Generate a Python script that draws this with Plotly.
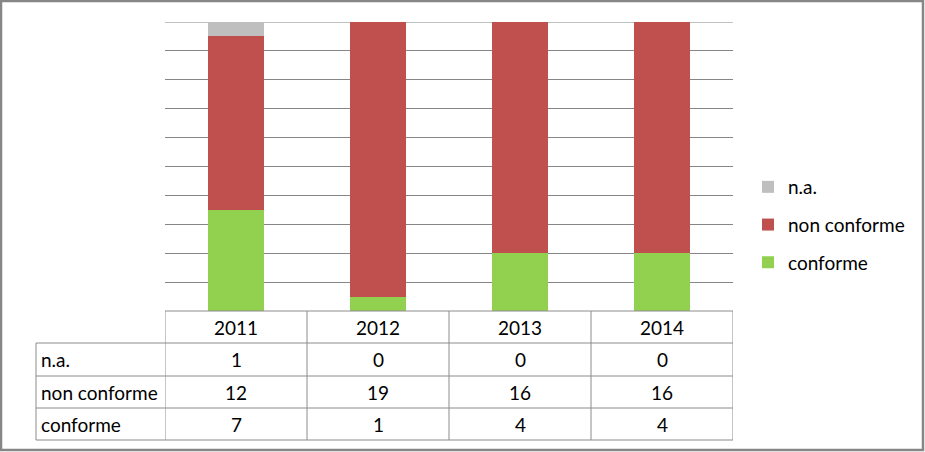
import plotly.graph_objects as go

years = ["2011", "2012", "2013", "2014"]
conforme = [7, 1, 4, 4]
non_conforme = [12, 19, 16, 16]
na = [1, 0, 0, 0]
series_names = ["n.a.", "non conforme", "conforme"]
series_values = [na, non_conforme, conforme]
colors = {"conforme": "#92D050", "non conforme": "#C0504D", "n.a.": "#BFBFBF"}
legend_rank = {"n.a.": 1, "non conforme": 2, "conforme": 3}

W, H = 925, 452
L, R, T, B = 165, 733, 22, 311
FONT = "Lato"
FS = 19
LINE = "#8C8C8C"


def px(xp):
    return (xp - L) / (R - L)


def py(yp):
    return (B - yp) / (B - T)


fig = go.Figure()
for name, vals in [("conforme", conforme), ("non conforme", non_conforme), ("n.a.", na)]:
    fig.add_trace(go.Bar(x=list(range(len(years))), y=vals, name=name,
                         marker=dict(color=colors[name], line=dict(width=0)),
                         legendgroup=name, legendrank=legend_rank[name], hoverinfo="skip"))

shapes = []
# outer border
shapes.append(dict(type="rect", xref="paper", yref="paper", x0=px(1), x1=px(W - 2), y0=py(1), y1=py(H - 2),
                   line=dict(color="#868686", width=2.5), fillcolor="rgba(0,0,0,0)", layer="below"))
# top gridline (at range edge)
shapes.append(dict(type="line", xref="paper", yref="y", x0=0, x1=1, y0=20, y1=20,
                   line=dict(color="#868686", width=1), layer="below"))
# table horizontal lines
row_y = [343, 376, 408, 440]
shapes.append(dict(type="line", xref="paper", yref="paper", x0=px(L), x1=px(R), y0=py(B), y1=py(B),
                   line=dict(color=LINE, width=1)))
for yy in row_y:
    shapes.append(dict(type="line", xref="paper", yref="paper", x0=px(36), x1=px(R), y0=py(yy), y1=py(yy),
                       line=dict(color=LINE, width=1)))
# vertical lines
shapes.append(dict(type="line", xref="paper", yref="paper", x0=px(36), x1=px(36), y0=py(343), y1=py(440),
                   line=dict(color=LINE, width=1)))
for i in range(len(years) + 1):
    shapes.append(dict(type="line", xref="x", yref="paper", x0=i - 0.5, x1=i - 0.5, y0=py(B), y1=py(440),
                       line=dict(color=LINE, width=1)))

annotations = []
header_y = (B + 343) / 2
row_centers = [(343 + 376) / 2, (376 + 408) / 2, (408 + 440) / 2]
for i, yr in enumerate(years):
    annotations.append(dict(x=i, y=py(header_y), xref="x", yref="paper", text=yr, showarrow=False,
                            font=dict(family=FONT, size=FS, color="black"), xanchor="center", yanchor="middle"))
for r, (nm, vals) in enumerate(zip(series_names, series_values)):
    annotations.append(dict(x=px(39), y=py(row_centers[r]), xref="paper", yref="paper", text=nm, showarrow=False,
                            font=dict(family=FONT, size=FS, color="black"), xanchor="left", yanchor="middle"))
    for i, v in enumerate(vals):
        annotations.append(dict(x=i, y=py(row_centers[r]), xref="x", yref="paper", text=str(v), showarrow=False,
                                font=dict(family=FONT, size=FS, color="black"), xanchor="center", yanchor="middle"))

fig.update_layout(
    width=W, height=H,
    margin=dict(l=L, r=W - R, t=T, b=H - B, pad=0),
    paper_bgcolor="white", plot_bgcolor="white",
    barmode="stack", bargap=0.6,
    showlegend=True,
    legend=dict(x=px(748), y=py(168), xanchor="left", yanchor="top",
                traceorder="grouped", tracegroupgap=10,
                font=dict(family=FONT, size=FS, color="black"), bgcolor="rgba(0,0,0,0)"),
    xaxis=dict(range=[-0.5, len(years) - 0.5], showticklabels=False, showgrid=False, zeroline=False,
               showline=False, ticks="", fixedrange=True),
    yaxis=dict(range=[0, 20], dtick=2, showticklabels=False, showgrid=True, gridcolor="#868686", gridwidth=1,
               zeroline=False, showline=False, ticks=""),
    shapes=shapes, annotations=annotations,
)

fig.write_html("out.html")
